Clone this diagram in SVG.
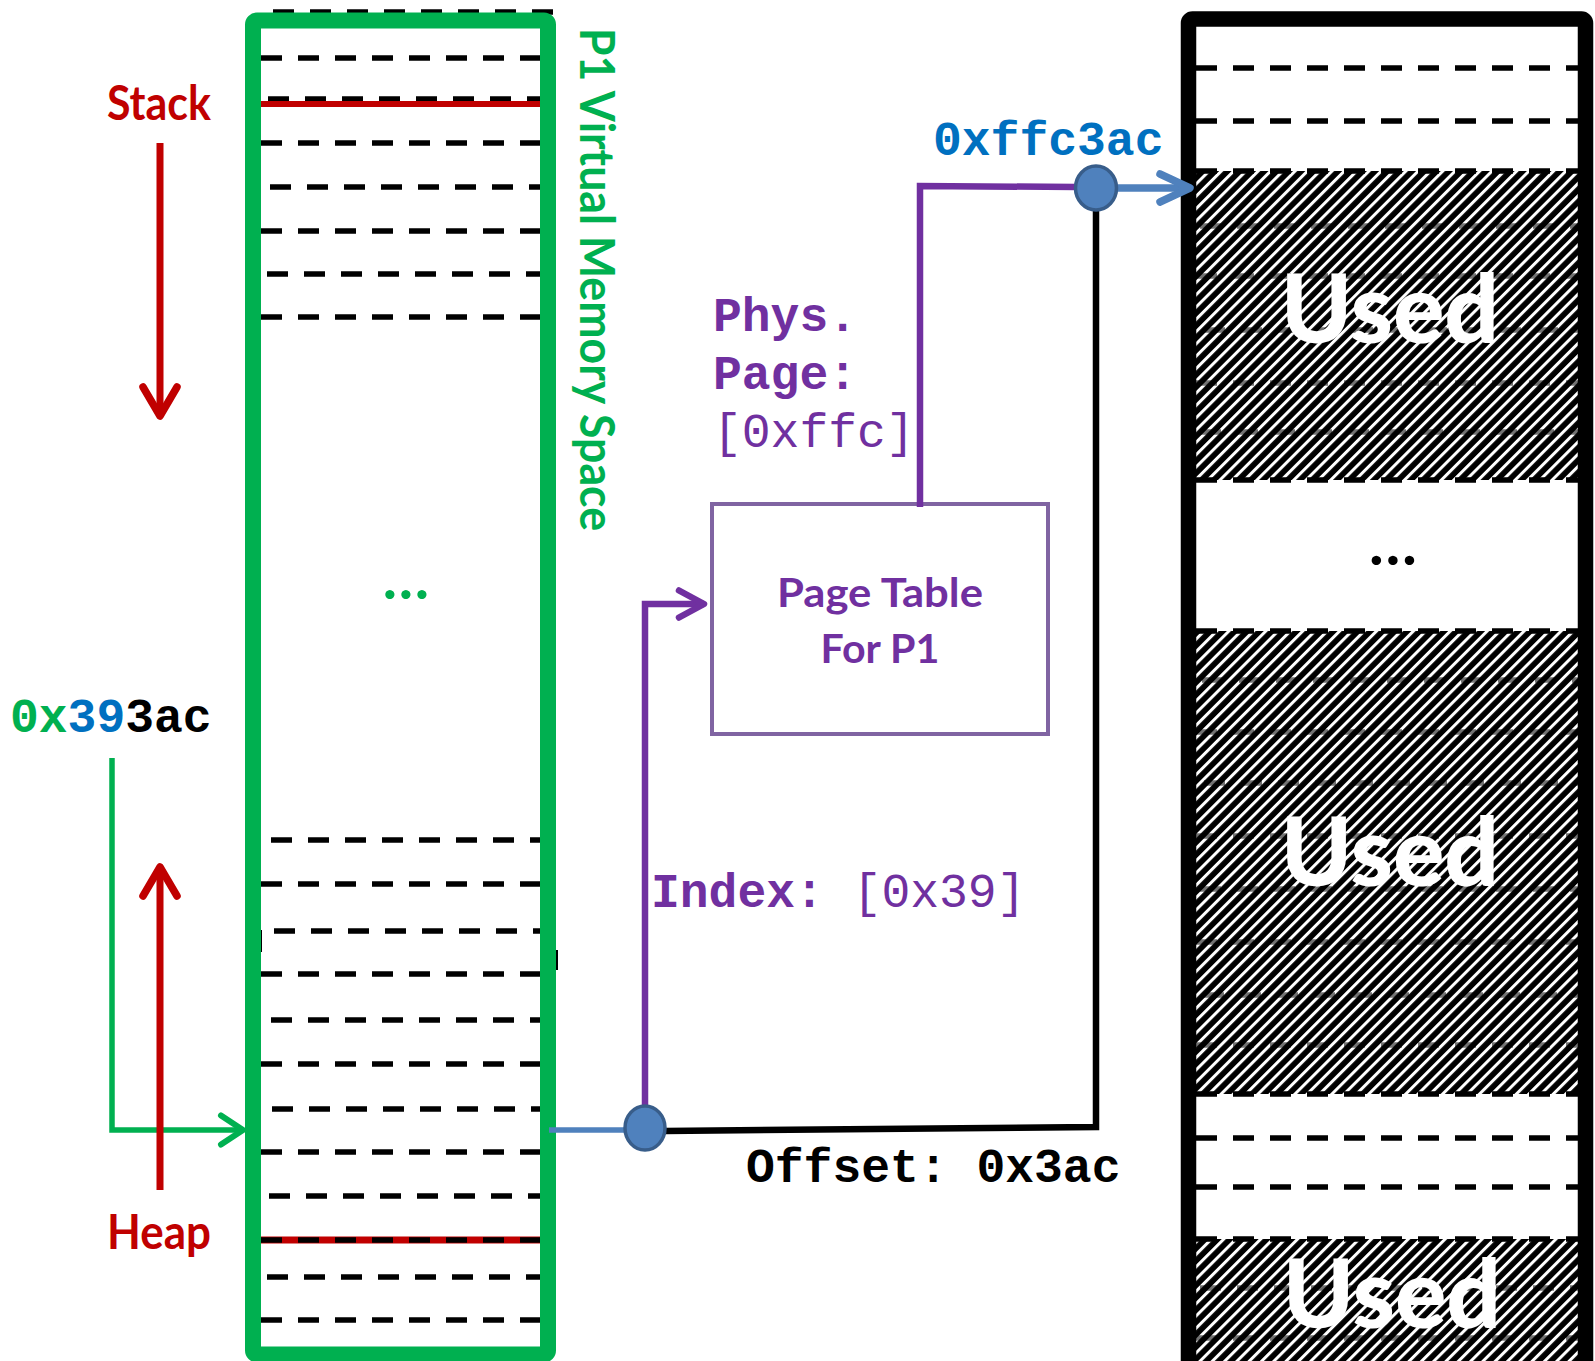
<svg xmlns="http://www.w3.org/2000/svg" width="1595" height="1361" viewBox="0 0 1595 1361">
<style>
.dash{stroke:#000;stroke-width:5.5;stroke-dasharray:21 16;fill:none}
.lab{font-family:"Lato","Open Sans",sans-serif;font-weight:bold}
.mono{font-family:"Liberation Mono","Courier New",monospace;font-size:48px}
.b{font-weight:bold}
.used{font-family:"Lato","Open Sans",sans-serif;font-weight:900;font-size:96px;fill:#fff;text-anchor:middle}
.junc{fill:#4F81BD;stroke:#385D8A;stroke-width:3.5}
</style>
<defs>
<pattern id="hatch" width="8.7" height="8.7" patternUnits="userSpaceOnUse" patternTransform="rotate(45)">
<rect width="8.7" height="8.7" fill="#000"/>
<rect width="3" height="8.7" fill="#fff"/>
</pattern>
<marker id="mRed" markerUnits="userSpaceOnUse" viewBox="-34 -22 40 44" refX="0" refY="0" markerWidth="40" markerHeight="44" orient="auto" overflow="visible">
<path d="M-29,-17 L0,0 L-29,17" fill="none" stroke="#C00000" stroke-width="7.5" stroke-linecap="round" stroke-linejoin="round"/>
</marker>
<marker id="mGreen" markerUnits="userSpaceOnUse" viewBox="-30 -20 36 40" refX="0" refY="0" markerWidth="36" markerHeight="40" orient="auto" overflow="visible">
<path d="M-22,-14.5 L0,0 L-22,14.5" fill="none" stroke="#00B050" stroke-width="6" stroke-linecap="round" stroke-linejoin="round"/>
</marker>
<marker id="mPurple" markerUnits="userSpaceOnUse" viewBox="-30 -20 36 40" refX="0" refY="0" markerWidth="36" markerHeight="40" orient="auto" overflow="visible">
<path d="M-25,-13.5 L0,0 L-25,13.5" fill="none" stroke="#7030A0" stroke-width="6.5" stroke-linecap="round" stroke-linejoin="round"/>
</marker>
<marker id="mBlue" markerUnits="userSpaceOnUse" viewBox="-36 -20 42 40" refX="0" refY="0" markerWidth="42" markerHeight="40" orient="auto" overflow="visible">
<path d="M-30,-14 L0,0 L-30,14" fill="none" stroke="#4F81BD" stroke-width="7.5" stroke-linecap="round" stroke-linejoin="round"/>
</marker>
</defs>
<rect width="1595" height="1361" fill="#fff"/>

<g id="virtual-memory">
<line class="dash" x1="273" y1="12" x2="555" y2="12"/>
<line class="dash" x1="261" y1="58" x2="541" y2="58"/>
<line class="dash" x1="268" y1="99" x2="541" y2="99"/>
<line x1="261" y1="104" x2="541" y2="104" stroke="#C00000" stroke-width="6"/>
<line class="dash" x1="261" y1="143" x2="541" y2="143"/>
<line class="dash" x1="270" y1="187" x2="541" y2="187"/>
<line class="dash" x1="261" y1="231" x2="541" y2="231"/>
<line class="dash" x1="267" y1="274" x2="541" y2="274"/>
<line class="dash" x1="261" y1="317" x2="541" y2="317"/>
<line class="dash" x1="271" y1="840" x2="541" y2="840"/>
<line class="dash" x1="261" y1="884" x2="541" y2="884"/>
<line class="dash" x1="274" y1="931" x2="560" y2="931"/>
<line x1="261" y1="930" x2="261" y2="952" stroke="#000" stroke-width="2"/>
<line x1="557" y1="950" x2="557" y2="970" stroke="#000" stroke-width="2"/>
<line class="dash" x1="261" y1="974" x2="541" y2="974"/>
<line class="dash" x1="271" y1="1020" x2="541" y2="1020"/>
<line class="dash" x1="261" y1="1064" x2="541" y2="1064"/>
<line class="dash" x1="272" y1="1109" x2="541" y2="1109"/>
<line class="dash" x1="261" y1="1152" x2="541" y2="1152"/>
<line class="dash" x1="269" y1="1196" x2="541" y2="1196"/>
<line x1="261" y1="1240" x2="541" y2="1240" stroke="#C00000" stroke-width="7"/>
<line class="dash" x1="261" y1="1240" x2="541" y2="1240" stroke-width="4.5"/>
<line class="dash" x1="267" y1="1277" x2="541" y2="1277"/>
<line class="dash" x1="261" y1="1320" x2="541" y2="1320"/>
<rect x="253" y="20.5" width="295" height="1334" rx="4" fill="none" stroke="#00B050" stroke-width="16"/>
<text class="lab" x="406" y="599" font-size="60" fill="#00B050" text-anchor="middle">…</text>
<text class="lab" transform="translate(580,28) rotate(90)" font-size="47" fill="#00B050" textLength="503" lengthAdjust="spacingAndGlyphs">P1 Virtual Memory Space</text>
</g>

<g id="stack-label">
<text class="lab" x="107" y="120" font-size="47" fill="#C00000" textLength="104" lengthAdjust="spacingAndGlyphs">Stack</text>
</g>
<g id="heap-label">
<text class="lab" x="107" y="1249" font-size="47" fill="#C00000" textLength="104" lengthAdjust="spacingAndGlyphs">Heap</text>
</g>
<g id="vaddr-label">
<text class="mono b" x="10" y="732"><tspan fill="#00B050">0x</tspan><tspan fill="#0070C0">39</tspan><tspan fill="#000">3ac</tspan></text>
</g>

<g id="page-table">
<rect x="712" y="504" width="336" height="230" fill="#fff" stroke="#8064A2" stroke-width="4"/>
<text class="lab" x="880" y="607" font-size="40" fill="#7030A0" text-anchor="middle" textLength="206" lengthAdjust="spacingAndGlyphs">Page Table</text>
<text class="lab" x="880" y="663" font-size="40" fill="#7030A0" text-anchor="middle" textLength="119" lengthAdjust="spacingAndGlyphs">For P1</text>
</g>

<g id="physical-memory">
<line class="dash" x1="1196" y1="68" x2="1578" y2="68"/>
<line class="dash" x1="1196" y1="121" x2="1578" y2="121"/>
<rect x="1196" y="171" width="382" height="309" fill="url(#hatch)"/>
<rect x="1196" y="631" width="382" height="463" fill="url(#hatch)"/>
<rect x="1196" y="1239" width="382" height="130" fill="url(#hatch)"/>
<g opacity="0.55">
<line class="dash" x1="1200" y1="226" x2="1578" y2="226"/>
<line class="dash" x1="1196" y1="276" x2="1578" y2="276"/>
<line class="dash" x1="1204" y1="330" x2="1578" y2="330"/>
<line class="dash" x1="1196" y1="383" x2="1578" y2="383"/>
<line class="dash" x1="1200" y1="432" x2="1578" y2="432"/>
<line class="dash" x1="1202" y1="680" x2="1578" y2="680"/>
<line class="dash" x1="1196" y1="732" x2="1578" y2="732"/>
<line class="dash" x1="1204" y1="783" x2="1578" y2="783"/>
<line class="dash" x1="1196" y1="836" x2="1578" y2="836"/>
<line class="dash" x1="1200" y1="889" x2="1578" y2="889"/>
<line class="dash" x1="1196" y1="942" x2="1578" y2="942"/>
<line class="dash" x1="1203" y1="995" x2="1578" y2="995"/>
<line class="dash" x1="1196" y1="1045" x2="1578" y2="1045"/>
<line class="dash" x1="1200" y1="1288" x2="1578" y2="1288"/>
<line class="dash" x1="1196" y1="1338" x2="1578" y2="1338"/>
</g>
<line class="dash" x1="1196" y1="171" x2="1578" y2="171"/>
<line class="dash" x1="1196" y1="480" x2="1578" y2="480"/>
<line class="dash" x1="1196" y1="631" x2="1578" y2="631"/>
<line class="dash" x1="1196" y1="1094" x2="1578" y2="1094"/>
<line class="dash" x1="1196" y1="1239" x2="1578" y2="1239"/>
<line class="dash" x1="1196" y1="1138" x2="1578" y2="1138"/>
<line class="dash" x1="1196" y1="1187" x2="1578" y2="1187"/>
<text class="used" x="1390" y="343">Used</text>
<text class="used" x="1390" y="886">Used</text>
<text class="used" x="1392" y="1328">Used</text>
<text class="lab" x="1393" y="565" font-size="62" fill="#000" text-anchor="middle">…</text>
<rect x="1188.5" y="19" width="397" height="1370" rx="4" fill="none" stroke="#000" stroke-width="15.5"/>
</g>

<g id="connectors" fill="none">
<path d="M112,758 V1130 H243" stroke="#00B050" stroke-width="5.5" marker-end="url(#mGreen)"/>
<line x1="160" y1="143" x2="160" y2="416" stroke="#C00000" stroke-width="7" marker-end="url(#mRed)"/>
<line x1="160" y1="1190" x2="160" y2="867" stroke="#C00000" stroke-width="7" marker-end="url(#mRed)"/>
<line x1="549" y1="1130" x2="626" y2="1130" stroke="#4F81BD" stroke-width="5.5"/>
<path d="M645,1108 V604 H704" stroke="#7030A0" stroke-width="6.5" marker-end="url(#mPurple)"/>
<path d="M665,1131 L1096,1127 V208" stroke="#000" stroke-width="6.5"/>
<path d="M920,507 V186 L1076,187" stroke="#7030A0" stroke-width="6.5"/>
<line x1="1117" y1="188" x2="1190" y2="188" stroke="#4F81BD" stroke-width="7.5" marker-end="url(#mBlue)"/>
</g>

<g id="junction-offset">
<ellipse class="junc" cx="645" cy="1128" rx="20" ry="22"/>
</g>
<g id="junction-physical">
<ellipse class="junc" cx="1096" cy="188" rx="20.5" ry="22"/>
</g>

<g id="labels">
<text class="mono b" x="713" y="331" fill="#7030A0">Phys.</text>
<text class="mono b" x="713" y="389" fill="#7030A0">Page:</text>
<text class="mono" x="713" y="447" fill="#7030A0">[0xffc]</text>
<text class="mono" x="651" y="907" fill="#7030A0"><tspan class="b">Index:</tspan> [0x39]</text>
<text class="mono b" x="746" y="1182" fill="#000">Offset: 0x3ac</text>
<text class="mono b" x="933" y="155" fill="#0070C0">0xffc3ac</text>
</g>
</svg>
